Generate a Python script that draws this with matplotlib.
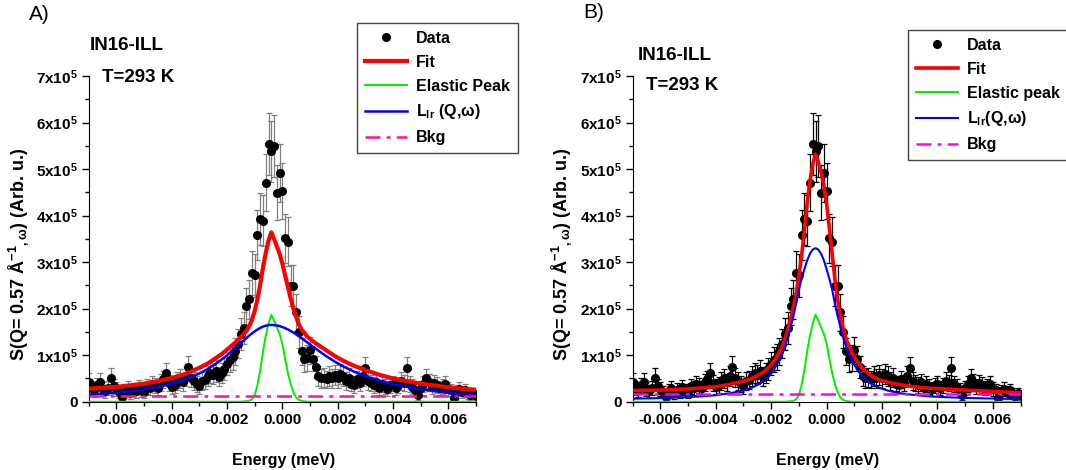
import numpy as np
import matplotlib
matplotlib.use("Agg")
import matplotlib.pyplot as plt
from matplotlib.ticker import MultipleLocator, FuncFormatter

plt.rcParams['font.family'] = ['Liberation Sans', 'DejaVu Sans']
plt.rcParams['font.weight'] = 'bold'
plt.rcParams['mathtext.fontset'] = 'custom'
plt.rcParams['mathtext.rm'] = 'Liberation Sans:bold'
plt.rcParams['mathtext.it'] = 'Liberation Sans:bold'
plt.rcParams['mathtext.bf'] = 'Liberation Sans:bold'
plt.rcParams['mathtext.default'] = 'rm'
plt.rcParams['axes.unicode_minus'] = False

# measured points (same run in both panels), intensity in units of 1e5
energy = np.round(np.arange(-70, 71) * 1e-4, 4)
counts = [0.43, 0.30, 0.25, 0.35, 0.43, 0.28, 0.22, 0.30, 0.52, 0.33,
          0.28, 0.20, 0.11, 0.24, 0.30, 0.18, 0.26, 0.22, 0.31, 0.25,
          0.20, 0.33, 0.29, 0.39, 0.35, 0.30, 0.42, 0.48, 0.61, 0.40,
          0.32, 0.36, 0.45, 0.50, 0.42, 0.55, 0.75, 0.52, 0.44, 0.38,
          0.33, 0.45, 0.47, 0.55, 0.62, 0.58, 0.66, 0.54, 0.62, 0.70,
          0.82, 0.90, 0.97, 1.08, 1.25, 1.45, 1.58, 2.05, 2.20, 2.76,
          2.72, 3.58, 3.93, 3.89, 4.71, 5.54, 5.38, 5.50, 4.49, 4.91,
          4.53, 3.51, 3.44, 2.49, 2.49, 1.92, 1.50, 1.08, 0.91, 0.94,
          1.11, 0.92, 0.75, 0.55, 0.50, 0.52, 0.48, 0.55, 0.50, 0.57,
          0.50, 0.60, 0.55, 0.45, 0.52, 0.39, 0.35, 0.48, 0.40, 0.55,
          0.72, 0.45, 0.40, 0.36, 0.42, 0.30, 0.38, 0.33, 0.28, 0.35,
          0.39, 0.30, 0.35, 0.45, 0.40, 0.72, 0.38, 0.32, 0.26, 0.14,
          0.30, 0.38, 0.50, 0.42, 0.33, 0.40, 0.36, 0.30, 0.33, 0.38,
          0.28, 0.25, 0.07, 0.22, 0.28, 0.20, 0.25, 0.18, 0.15, 0.18,
          0.12]
errors = [0.18, 0.15, 0.14, 0.17, 0.18, 0.15, 0.13, 0.15, 0.20, 0.16,
          0.15, 0.13, 0.09, 0.14, 0.15, 0.12, 0.14, 0.13, 0.16, 0.14,
          0.13, 0.16, 0.15, 0.17, 0.17, 0.15, 0.18, 0.19, 0.22, 0.18,
          0.16, 0.17, 0.19, 0.20, 0.18, 0.21, 0.24, 0.20, 0.19, 0.17,
          0.16, 0.19, 0.19, 0.21, 0.22, 0.21, 0.23, 0.21, 0.22, 0.23,
          0.25, 0.27, 0.28, 0.29, 0.31, 0.34, 0.35, 0.40, 0.42, 0.47,
          0.46, 0.53, 0.56, 0.55, 0.61, 0.66, 0.65, 0.66, 0.59, 0.62,
          0.60, 0.52, 0.52, 0.44, 0.44, 0.39, 0.34, 0.29, 0.27, 0.27,
          0.29, 0.27, 0.24, 0.21, 0.20, 0.20, 0.19, 0.21, 0.20, 0.21,
          0.20, 0.22, 0.21, 0.19, 0.20, 0.17, 0.17, 0.19, 0.18, 0.21,
          0.24, 0.19, 0.18, 0.17, 0.18, 0.15, 0.17, 0.16, 0.15, 0.17,
          0.17, 0.15, 0.17, 0.19, 0.18, 0.24, 0.17, 0.16, 0.14, 0.10,
          0.15, 0.17, 0.20, 0.18, 0.16, 0.18, 0.17, 0.15, 0.16, 0.17,
          0.15, 0.14, 0.07, 0.13, 0.15, 0.13, 0.14, 0.12, 0.11, 0.12,
          0.10]

# fitted curves, read on this energy grid
curve_e = [-0.0070, -0.0065, -0.0060, -0.0055, -0.0050, -0.0045, -0.0040,
           -0.0035, -0.0030, -0.0027, -0.0024, -0.0022, -0.0020, -0.0018,
           -0.0016, -0.0015, -0.0014, -0.0013, -0.0012, -0.0011, -0.0010,
           -0.0009, -0.0008, -0.0007, -0.0006, -0.0005, -0.0004, -0.0003,
           -0.0002, -0.0001, 0.0000, 0.0001, 0.0002, 0.0003, 0.0004,
           0.0005, 0.0006, 0.0007, 0.0009, 0.0011, 0.0013, 0.0016, 0.0019,
           0.0022, 0.0026, 0.0030, 0.0035, 0.0040, 0.0045, 0.0050, 0.0055,
           0.0060, 0.0065, 0.0070]
elastic = [0, 0, 0, 0, 0, 0, 0, 0, 0, 0, 0, 0, 0, 0, 0,
           0, 0.005, 0.01, 0.02, 0.05, 0.14, 0.36, 0.68, 1.08, 1.42, 1.68,
           1.87, 1.74, 1.60, 1.46, 1.25, 0.92, 0.62, 0.38, 0.20, 0.09,
           0.04, 0.015,
           0, 0, 0, 0, 0, 0, 0, 0, 0, 0, 0, 0, 0, 0, 0, 0]
fit_a = [0.28, 0.30, 0.32, 0.35, 0.39, 0.44, 0.51, 0.60, 0.73, 0.82, 0.94,
         1.02, 1.12, 1.22, 1.33, 1.39, 1.45, 1.52, 1.62, 1.76, 1.95, 2.20,
         2.52, 2.88, 3.20, 3.46, 3.64, 3.50, 3.34, 3.18, 2.97, 2.72, 2.47,
         2.22, 2.00, 1.82, 1.66, 1.55, 1.40, 1.30, 1.22, 1.10, 0.98, 0.88,
         0.77, 0.68, 0.58, 0.50, 0.44, 0.39, 0.35, 0.31, 0.28, 0.255]
lor_a = [0.15, 0.17, 0.195, 0.225, 0.265, 0.315, 0.385, 0.478, 0.606,
         0.702, 0.817, 0.903, 0.998, 1.100, 1.207, 1.261, 1.315, 1.367,
         1.419, 1.467, 1.511, 1.551, 1.585, 1.613, 1.633, 1.646, 1.650,
         1.647, 1.639, 1.625, 1.605, 1.581, 1.553, 1.521, 1.485, 1.447,
         1.406, 1.364, 1.276, 1.186, 1.099, 0.974, 0.860, 0.759, 0.644,
         0.549, 0.453, 0.378, 0.319, 0.272, 0.225, 0.19, 0.16, 0.135]
fit_b = [0.24, 0.245, 0.25, 0.26, 0.275, 0.295, 0.32, 0.37, 0.44, 0.50,
         0.59, 0.67, 0.79, 0.96, 1.19, 1.35, 1.55, 1.78, 2.03, 2.31, 2.70,
         3.15, 3.68, 4.27, 4.75, 5.10, 5.32, 5.16, 4.93, 4.65, 4.25, 3.73,
         3.18, 2.63, 2.19, 1.84, 1.57, 1.355, 1.07, 0.86, 0.71, 0.56, 0.47,
         0.42, 0.37, 0.33, 0.30, 0.28, 0.265, 0.25, 0.235, 0.22, 0.205,
         0.19]
lor_b = [0.065, 0.071, 0.078, 0.088, 0.10, 0.115, 0.14, 0.18, 0.24, 0.30,
         0.39, 0.48, 0.61, 0.79, 1.03, 1.19, 1.38, 1.60, 1.84, 2.10, 2.41,
         2.64, 2.85, 3.04, 3.18, 3.27, 3.30, 3.27, 3.18, 3.04, 2.85, 2.64,
         2.41, 2.10, 1.84, 1.60, 1.38, 1.19, 0.90, 0.69, 0.54, 0.39, 0.30,
         0.24, 0.185, 0.155, 0.125, 0.105, 0.092, 0.082, 0.074, 0.068,
         0.062, 0.057]
bkg_e = [-0.007, 0.007]
bkg_a = [0.12, 0.12]
bkg_b = [0.155, 0.155]

labels_a = ['Data', 'Fit', 'Elastic Peak', r'L$_{lr}$ (Q,ω)', 'Bkg']
labels_b = ['Data', 'Fit', 'Elastic peak', r'L$_{lr}$(Q,ω)', 'Bkg']

W, H = 1066, 470
fig = plt.figure(figsize=(W / 100, H / 100), dpi=100)


def ytick(v, pos):
    if abs(v) < 1e-9:
        return '0'
    return r'%dx10$^{5}$' % round(v)


def panel(rect, fit, lor, bkg, labels, errc, bkgc, fit_lw, lor_lw, leg_xy):
    ax = fig.add_axes(rect)
    ax.errorbar(energy, counts, yerr=errors, fmt='none', ecolor=errc,
                elinewidth=0.9, capsize=2, capthick=0.9, zorder=2)
    ax.plot(energy, counts, 'o', color='black', ms=5.5, label=labels[0], zorder=3)
    ax.plot(curve_e, fit, color='#ff0000', lw=fit_lw, label=labels[1], zorder=4)
    ax.plot(curve_e, elastic, color='#00ee00', lw=1.4, label=labels[2], zorder=4)
    ax.plot(curve_e, lor, color='#0000ff', lw=lor_lw, label=labels[3], zorder=4)
    ax.plot(bkg_e, bkg, color=bkgc, lw=1.8, dashes=(6, 2.5, 1.5, 2.5),
            label=labels[4], zorder=4)

    ax.set_xlim(-0.007, 0.007)
    ax.set_ylim(0, 7)
    ax.spines['top'].set_visible(False)
    ax.spines['right'].set_visible(False)
    ax.xaxis.set_major_locator(MultipleLocator(0.002))
    ax.xaxis.set_minor_locator(MultipleLocator(0.001))
    ax.yaxis.set_major_locator(MultipleLocator(1))
    ax.yaxis.set_minor_locator(MultipleLocator(0.5))
    ax.xaxis.set_major_formatter(FuncFormatter(lambda v, p: '%.3f' % v))
    ax.yaxis.set_major_formatter(FuncFormatter(ytick))
    ax.tick_params(which='major', direction='out', length=5, width=1,
                   labelsize=11, pad=3)
    ax.tick_params(which='minor', direction='out', length=3, width=1)
    for t in ax.get_xticklabels() + ax.get_yticklabels():
        t.set_fontweight('bold')

    ax.set_xlabel('Energy (meV)', fontsize=11.5, fontweight='bold')
    ax.xaxis.set_label_coords(0.502, -0.157)
    ax.set_ylabel(r'S(Q= 0.57 Å$^{-1}$$_{,ω}$) (Arb. u.)', fontsize=13,
                  fontweight='bold')
    ax.yaxis.set_label_coords(-0.15, 0.452)

    leg = ax.legend(loc='upper left', bbox_to_anchor=(leg_xy[0] / W, 1 - leg_xy[1] / H),
                    bbox_transform=fig.transFigure, borderaxespad=0,
                    fancybox=False, edgecolor='#444444', framealpha=1,
                    prop={'size': 11.5, 'weight': 'bold'}, handlelength=2.6,
                    handletextpad=0.6, labelspacing=0.55, borderpad=0.5)
    leg.get_frame().set_linewidth(1.0)
    return ax


axA = panel([88.8 / W, 1 - 401.7 / H, 387.1 / W, 325.7 / H], fit_a, lor_a, bkg_a,
            labels_a, '#808080', '#ff1493', 3.0, 1.8, (357, 23))
axB = panel([632.6 / W, 1 - 401.7 / H, 388.0 / W, 325.7 / H], fit_b, lor_b, bkg_b,
            labels_b, 'black', '#ff00ff', 2.6, 1.5, (908, 30))

fig.text(29 / W, 1 - 14 / H, 'A)', fontsize=15, fontweight='normal', va='center')
fig.text(583 / W, 1 - 13 / H, 'B)', fontsize=15, fontweight='normal', va='center')
fig.text(90 / W, 1 - 45 / H, 'IN16-ILL', fontsize=13.5, fontweight='bold', va='center')
fig.text(101.6 / W, 1 - 78 / H, 'T=293 K', fontsize=13.5, fontweight='bold', va='center')
fig.text(638 / W, 1 - 56 / H, 'IN16-ILL', fontsize=13.5, fontweight='bold', va='center')
fig.text(646 / W, 1 - 86 / H, 'T=293 K', fontsize=13.5, fontweight='bold', va='center')

fig.savefig('out.png', dpi=100)
